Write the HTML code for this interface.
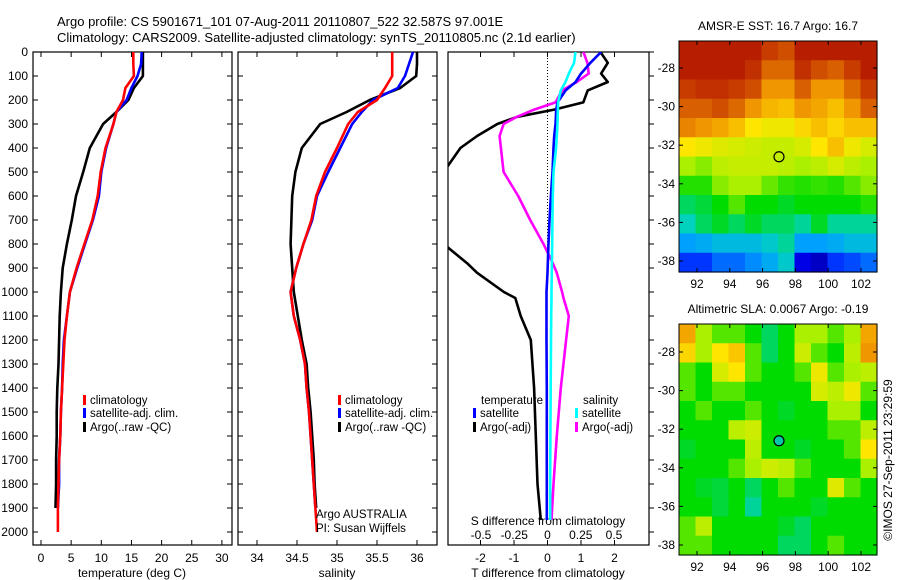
<!DOCTYPE html>
<html><head><meta charset="utf-8">
<style>
html,body{margin:0;padding:0;background:#fff;}
svg{display:block;font-family:"Liberation Sans",sans-serif;}
text{font-size:12px;fill:#000;}
</style></head>
<body>
<svg id="fig" width="900" height="580" viewBox="0 0 900 580" xmlns="http://www.w3.org/2000/svg">
<text x="57" y="26" style="font-size:13px">Argo profile: CS 5901671_101 07-Aug-2011 20110807_522 32.587S 97.001E</text>
<text x="57" y="42" style="font-size:13px">Climatology: CARS2009. Satellite-adjusted climatology: synTS_20110805.nc (2.1d earlier)</text>
<g id="g"></g>
</svg>
<script>
// ---------- data ----------
const depths = [0,50,100,150,200,250,300,400,500,600,700,800,900,1000,1100,1200,1300,1400,1500,1600,1700,1800,1900,2000];
const tempClim = [15.3,15.3,15.4,14.0,13.6,12.5,12.0,10.7,9.9,9.4,8.5,7.2,5.9,4.8,4.3,3.9,3.7,3.5,3.3,3.2,3.0,2.9,2.8,2.8];
const tempSat  = [16.7,16.6,16.0,15.0,14.2,12.5,12.0,10.8,10.0,9.6,8.6,7.3,6.0,4.8,4.3,3.8,3.6,3.5,3.3,3.2,3.0,3.0,2.8,null];
const tempArgo = [16.9,16.9,16.9,15.4,14.5,12.5,10.3,8.1,7.0,5.8,5.1,4.3,3.6,3.3,3.1,3.0,2.9,2.7,2.6,2.6,2.5,2.5,2.4,null];
const salClim  = [35.69,35.69,35.69,35.6,35.5,35.26,35.14,35.0,34.85,34.74,34.68,34.58,34.49,34.42,34.46,34.54,34.6,34.62,34.65,34.67,34.69,34.71,34.73,34.75];
const salSat   = [35.95,35.9,35.85,35.76,35.45,35.31,35.19,35.04,34.89,34.75,34.69,34.58,34.49,34.42,34.46,34.54,34.6,34.62,34.65,34.67,34.69,34.71,34.73,null];
const salArgo  = [36.0,36.0,35.99,35.79,35.41,35.12,34.79,34.56,34.48,34.44,34.43,34.42,34.44,34.46,34.51,34.56,34.62,34.64,34.67,34.69,34.71,34.72,34.74,null];
const dDepths  = [0,45,90,125,160,210,240,270,300,350,400,500,600,700,800,880,920,1000,1025,1100,1200,1400,1600,1800,1950];
const dTsat    = [1.6,1.28,1.0,0.84,0.54,0.3,0.26,0.25,0.24,0.2,0.18,0.15,0.1,0.06,0.03,0.01,0,-0.03,-0.03,-0.03,-0.03,-0.02,-0.02,-0.02,-0.02];
const dTargo   = [1.58,1.8,1.6,1.8,1.2,1.07,0.2,-0.9,-1.5,-2.1,-2.6,-3.1,-3.6,-3.6,-3.1,-2.4,-2.1,-1.3,-0.96,-0.8,-0.5,-0.4,-0.35,-0.3,-0.2];
const dSsat    = [0.21,0.2,0.16,0.135,0.1,0.08,0.078,0.076,0.075,0.07,0.065,0.045,0.04,0.037,0.035,0.033,0.032,0.03,0.03,0.028,0.026,0.024,0.022,0.02,0.02];
const dSargo   = [0.27,0.3,0.31,0.22,0.11,0.06,-0.1,-0.23,-0.33,-0.36,-0.35,-0.33,-0.22,-0.13,-0.03,0.04,0.07,0.11,0.12,0.16,0.14,0.1,0.07,0.045,0.03];
const depthTicks = [0,100,200,300,400,500,600,700,800,900,1000,1100,1200,1300,1400,1500,1600,1700,1800,1900,2000];
const tTicks = [0,5,10,15,20,25,30];
const sTicks = [34,34.5,35,35.5,36];
const dtTicks = [-2,-1,0,1,2];
const dsTicks = [-0.5,-0.25,0,0.25,0.5];
const lonTicks = [92,94,96,98,100,102];
const latTicks = [-28,-30,-32,-34,-36,-38];
const sstGrid = [
[.95,.95,.95,.95,.95,.9,.88,.95,.95,.95,.95,.95],
[.95,.95,.95,.95,.92,.85,.85,.92,.88,.86,.9,.95],
[.9,.92,.92,.9,.88,.8,.8,.86,.8,.8,.85,.9],
[.86,.86,.88,.85,.8,.76,.75,.8,.78,.75,.8,.86],
[.82,.8,.78,.75,.7,.68,.68,.72,.75,.72,.75,.75],
[.7,.68,.66,.65,.64,.63,.63,.65,.7,.75,.68,.65],
[.6,.58,.62,.63,.63,.63,.62,.6,.62,.65,.62,.6],
[.52,.52,.58,.6,.6,.56,.53,.52,.53,.52,.55,.58],
[.45,.47,.5,.55,.5,.5,.48,.5,.5,.5,.5,.52],
[.4,.45,.48,.45,.48,.45,.45,.42,.48,.42,.42,.42],
[.3,.32,.35,.35,.35,.38,.42,.3,.3,.32,.35,.35],
[.2,.2,.25,.25,.28,.32,.38,.12,.08,.2,.22,.25]];
const slaGrid = [
[.78,.6,.55,.55,.5,.45,.5,.6,.6,.55,.6,.78],
[.72,.6,.7,.74,.55,.45,.5,.64,.55,.5,.62,.8],
[.55,.5,.65,.7,.55,.5,.5,.55,.68,.55,.6,.62],
[.55,.5,.55,.55,.5,.5,.5,.5,.65,.62,.68,.55],
[.5,.55,.5,.5,.55,.5,.48,.5,.5,.6,.6,.5],
[.5,.5,.5,.62,.64,.5,.5,.5,.5,.55,.55,.62],
[.48,.5,.5,.5,.62,.5,.5,.48,.5,.5,.55,.7],
[.5,.5,.5,.55,.6,.64,.62,.55,.5,.5,.5,.6],
[.5,.48,.47,.5,.45,.5,.55,.5,.5,.66,.55,.5],
[.5,.5,.47,.5,.42,.5,.5,.5,.48,.5,.5,.5],
[.55,.62,.5,.5,.5,.5,.48,.45,.5,.5,.5,.5],
[.55,.55,.5,.5,.5,.5,.45,.45,.5,.55,.5,.5]];
const argoLon = 97.0, argoLat = -32.6;

// ---------- helpers ----------
const NS="http://www.w3.org/2000/svg";
const G=document.getElementById('g');
function mk(tag,attrs,parent){const e=document.createElementNS(NS,tag);for(const k in attrs)e.setAttribute(k,attrs[k]);(parent||G).appendChild(e);return e;}
function txt(x,y,s,anchor,name,size){const t=mk('text',{x:x,y:y,'text-anchor':anchor||'start'});if(size)t.style.fontSize=size+'px';t.textContent=s;


return t;}
const yTop=52, yBot=545;
const yD = d => yTop + d*0.24;
const xT = v => 41 + v*6.03;
const xS = v => 257 + (v-34)*80;
const xDT = v => 547.5 + v*33.5;
const xDS = v => 547.5 + v*133;

function frame(x0,x1,name,leftLabels,rightTicks){
  const r=mk('rect',{x:x0,y:yTop,width:x1-x0,height:yBot-yTop,fill:'none',stroke:'#000','stroke-width':1.2});
  
  
  depthTicks.forEach(d=>{
    const y=yD(d);
    if(rightTicks){mk('line',{x1:x1,x2:x1+5,y1:y,y2:y,stroke:'#000'});}
    else{mk('line',{x1:x0,x2:x0+5,y1:y,y2:y,stroke:'#000'});mk('line',{x1:x1-5,x2:x1,y1:y,y2:y,stroke:'#000'});}
    if(leftLabels) txt(x0-5,y+4,String(d),'end','depth-tick-label');
  });
}
function polyline(xs,ds,fx,color,name,clip,w){
  let pts=[];
  for(let i=0;i<ds.length;i++){ if(xs[i]===null) continue; pts.push(fx(xs[i]).toFixed(1)+','+yD(ds[i]).toFixed(1)); }
  const p=mk('polyline',{points:pts.join(' '),fill:'none',stroke:color,'stroke-width':w||2.6,'stroke-linejoin':'round'});
  if(clip)p.setAttribute('clip-path','url(#'+clip+')');
  
  
}
function legend(x,y,color,label,name){
  mk('rect',{x:x,y:y-9,width:3,height:10,fill:color});
  txt(x+7,y,label,'start',name,11.5);
}

// ---------- panel 1: temperature ----------
frame(33,232,'temperature-panel-frame',true,false);
tTicks.forEach(v=>{const x=xT(v);mk('line',{x1:x,x2:x,y1:yTop,y2:yTop+5,stroke:'#000'});mk('line',{x1:x,x2:x,y1:yBot-5,y2:yBot,stroke:'#000'});txt(x,562,String(v),'middle','temperature-tick-label');});
txt(132,577,'temperature (deg C)','middle','temperature-axis-title');
polyline(tempArgo,depths,xT,'#000','temperature-argo-line');
polyline(tempSat,depths,xT,'#0000ff','temperature-satellite-line');
polyline(tempClim,depths,xT,'#ff0000','temperature-climatology-line');
legend(83,404,'#ff0000','climatology','legend-climatology');
legend(83,417,'#0000ff','satellite-adj. clim.','legend-satellite');
legend(83,431,'#000','Argo(..raw -QC)','legend-argo');

// ---------- panel 2: salinity ----------
frame(238,437,'salinity-panel-frame',false,false);
sTicks.forEach(v=>{const x=xS(v);mk('line',{x1:x,x2:x,y1:yTop,y2:yTop+5,stroke:'#000'});mk('line',{x1:x,x2:x,y1:yBot-5,y2:yBot,stroke:'#000'});txt(x,562,String(v),'middle','salinity-tick-label');});
txt(337,577,'salinity','middle','salinity-axis-title');
polyline(salArgo,depths,xS,'#000','salinity-argo-line');
polyline(salSat,depths,xS,'#0000ff','salinity-satellite-line');
polyline(salClim,depths,xS,'#ff0000','salinity-climatology-line');
legend(338,404,'#ff0000','climatology','legend2-climatology');
legend(338,417,'#0000ff','satellite-adj. clim.','legend2-satellite');
legend(338,431,'#000','Argo(..raw -QC)','legend2-argo');
txt(316,518,'Argo AUSTRALIA','start','argo-australia-label',11.5);
txt(316,532,'PI: Susan Wijffels','start','pi-label',11.5);

// ---------- panel 3: differences ----------
const defs=mk('defs',{});
const cp=mk('clipPath',{id:'clip3'},defs);mk('rect',{x:448,y:yTop,width:201,height:yBot-yTop},cp);
frame(448,649,'difference-panel-frame',false,true);
mk('line',{x1:547.5,x2:547.5,y1:yTop,y2:250,stroke:'#000','stroke-dasharray':'1,2'});
dtTicks.forEach(v=>{const x=xDT(v);mk('line',{x1:x,x2:x,y1:yTop,y2:yTop+5,stroke:'#000'});mk('line',{x1:x,x2:x,y1:yBot-5,y2:yBot,stroke:'#000'});txt(x,562,String(v),'middle','dt-tick-label');});
dsTicks.forEach(v=>{txt(xDS(v),539,String(v),'middle','ds-tick-label');});
txt(548,525,'S difference from climatology','middle','s-diff-axis-title');
txt(548,577,'T difference from climatology','middle','t-diff-axis-title');
polyline(dTargo,dDepths,xDT,'#000','dt-argo-line','clip3');
polyline(dSargo,dDepths,xDS,'#ff00ff','ds-argo-line','clip3');
polyline(dTsat,dDepths,xDT,'#0000ff','dt-satellite-line','clip3');
polyline(dSsat,dDepths,xDS,'#00ffff','ds-satellite-line','clip3');
txt(481,404,'temperature','start','legend3-temperature-header',11.5);
txt(583,404,'salinity','start','legend3-salinity-header',11.5);
legend(473,417,'#0000ff','satellite','legend3-t-satellite');
legend(473,431,'#000','Argo(-adj)','legend3-t-argo');
legend(575,417,'#00ffff','satellite','legend3-s-satellite');
legend(575,431,'#ff00ff','Argo(-adj)','legend3-s-argo');

// ---------- maps ----------
const stops=[[0,[0,0,130]],[.15,[0,0,255]],[.3,[0,160,255]],[.4,[0,210,190]],[.5,[0,220,0]],[.6,[170,240,0]],[.7,[255,230,0]],[.8,[240,150,0]],[.9,[200,60,0]],[1,[165,0,0]]];
function cmap(v){for(let i=1;i<stops.length;i++){if(v<=stops[i][0]){const a=stops[i-1],b=stops[i];const t=(v-a[0])/(b[0]-a[0]);return 'rgb('+a[1].map((c,k)=>Math.round(c+(b[1][k]-c)*t)).join(',')+')';}}return 'rgb(165,0,0)';}
function map(grid,x0,y0,lat28y,title,name,dotFill){
  const w=198,h=231;
  const lonX=lon=>697+(lon-92)*16.4+(x0-679);
  const latY=lat=>lat28y+(-28-lat)*19.3;
  const g=mk('g',{});
  
  
  const rows=grid.length, cols=grid[0].length, cw=w/cols, ch=h/rows;
  for(let r=0;r<rows;r++)for(let c=0;c<cols;c++){
    const cell=mk('rect',{x:(x0+c*cw).toFixed(2),y:(y0+r*ch).toFixed(2),width:(cw+0.6).toFixed(2),height:(ch+0.6).toFixed(2),fill:cmap(grid[r][c])},g);
    
    
  }
  mk('rect',{x:x0,y:y0,width:w,height:h,fill:'none',stroke:'#000','stroke-width':1});
  lonTicks.forEach(l=>{const x=lonX(l);mk('line',{x1:x,x2:x,y1:y0,y2:y0+4,stroke:'#000'});mk('line',{x1:x,x2:x,y1:y0+h-4,y2:y0+h,stroke:'#000'});txt(x,y0+h+16,String(l),'middle','lon-tick-label');});
  latTicks.forEach(l=>{const y=latY(l);mk('line',{x1:x0,x2:x0+4,y1:y,y2:y,stroke:'#000'});mk('line',{x1:x0+w-4,x2:x0+w,y1:y,y2:y,stroke:'#000'});txt(x0-4,y+4,String(l),'end','lat-tick-label');});
  const c=mk('circle',{cx:lonX(argoLon),cy:latY(argoLat),r:5,fill:dotFill,stroke:'#000','stroke-width':1.2});
  
  
  txt(x0+w/2,y0-11,title,'middle',name+'-title');
}
map(sstGrid,679,41,68,'AMSR-E SST: 16.7 Argo: 16.7','sst-map','none');
map(slaGrid,679,324,352,'Altimetric SLA: 0.0067 Argo: -0.19','sla-map','rgb(0,200,170)');
const cr=txt(0,0,'©IMOS 27-Sep-2011 23:29:59','middle','imos-credit');
cr.setAttribute('transform','translate(892,460) rotate(-90)');
</script>
</body></html>
